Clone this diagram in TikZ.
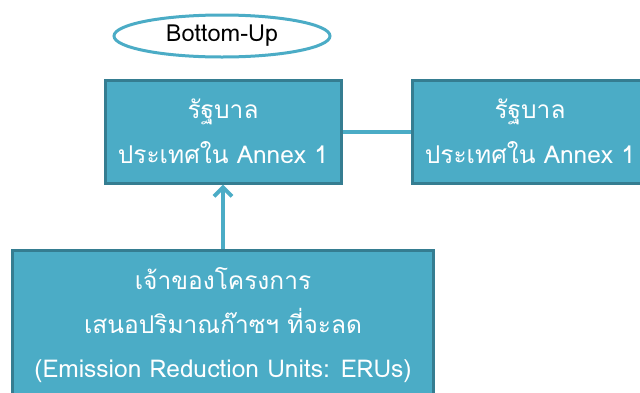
\documentclass[tikz,border=0pt]{standalone}
\usepackage{fontspec}
\setmainfont{Loma}[Script=Thai]
\usetikzlibrary{shapes.geometric,arrows.meta}

\definecolor{boxfill}{HTML}{4BACC6}
\definecolor{boxline}{HTML}{357D91}

\tikzset{
  govbox/.style={rectangle, draw=boxline, line width=3pt, fill=boxfill, text=white,
    align=center, minimum width=236pt, minimum height=103pt,
    font=\fontsize{24.5}{45}\selectfont},
  link/.style={boxfill, line width=4pt}
}

\begin{document}
\begin{tikzpicture}[x=1pt, y=-1pt]
  \useasboundingbox (0,0) rectangle (640,392);
  \clip (0,0) rectangle (640,392);
  \node[ellipse, draw=boxfill, line width=3pt, fill=white, minimum width=216pt,
    minimum height=42pt, inner sep=0pt, font=\fontsize{23.5}{26}\selectfont] (mode) at (222,36) {Bottom-Up};
  \node[govbox] (govA) at (223,131.5) {รัฐบาล\\ประเทศใน Annex 1};
  \node[govbox] (govB) at (530,131.5) {รัฐบาล\\ประเทศใน Annex 1};
  \node[govbox, minimum width=421pt, minimum height=150pt,
    font=\fontsize{24.5}{44}\selectfont] (owner) at (223,325)
    {เจ้าของโครงการ\\เสนอปริมาณก๊าซฯ ที่จะลด\\(Emission Reduction Units: ERUs)};
  \draw[link] (govA) -- (govB);
  \draw[link, -{Straight Barb[length=9pt, width=18pt]}] (owner) -- (govA);
\end{tikzpicture}
\end{document}
